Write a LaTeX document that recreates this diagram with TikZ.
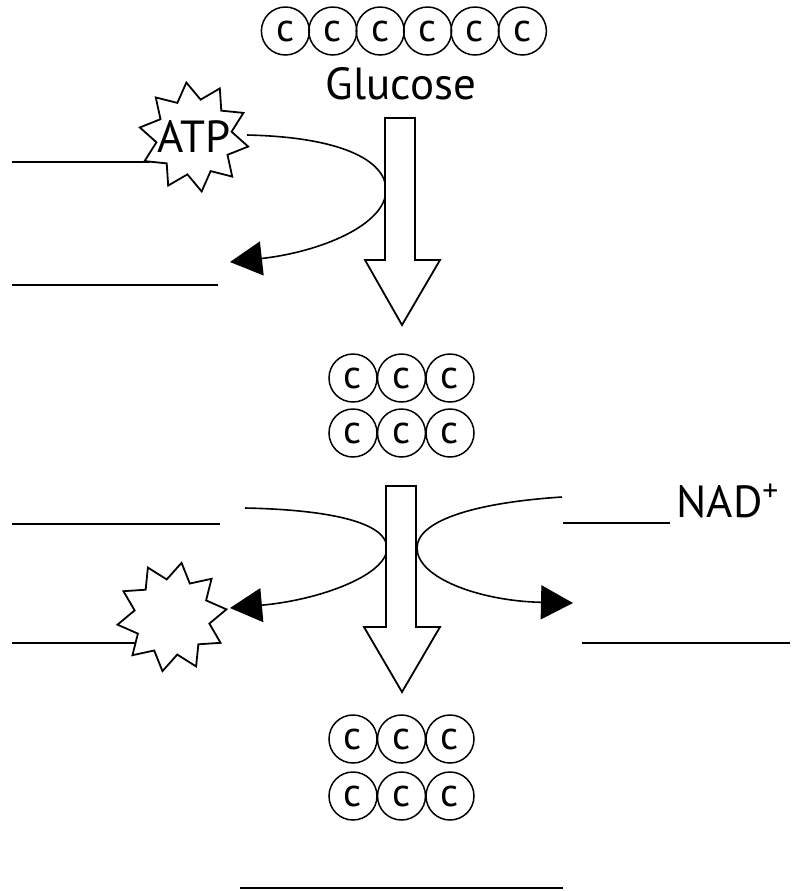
\documentclass[tikz,border=0pt]{standalone}
\usepackage{fontspec}
\setmainfont{PT Sans}
\usetikzlibrary{shapes.geometric,arrows.meta}

\begin{document}
\begin{tikzpicture}[x=0.5pt,y=-0.5pt,
        carbon/.style={circle,draw,line width=0.75pt,minimum size=24pt,inner sep=0pt,font=\fontsize{20}{20}\selectfont},
        burst/.style={star,star points=10,star point ratio=1.45,draw,line width=0.9pt,fill=white,inner sep=0pt,minimum size=55pt},
        blank/.style={line width=1pt},
        flow/.style={line width=0.8pt,-{Triangle[length=16pt,width=17pt]}},
        bigarrow/.style={draw,line width=0.9pt,fill=white},
        label/.style={font=\fontsize{22.5}{22.5}\selectfont}]
        \useasboundingbox (0,0) rectangle (792,891);

        \foreach \i in {1,...,6}
            \node[carbon] (glu\i) at (238+47.4*\i,31) {c};
        \node[label] (glucose) at (401,84) {Glucose};

        \draw[blank] (12,162)--(150,162);
        \node[burst,label,shape border rotate=8] (atp) at (194,137) {\makebox[0pt]{\raisebox{-.35em}[0pt][0pt]{ATP}}};
        \coordinate (l1) at (230,262);
        \draw[flow] (247,135) .. controls (340,137) and (386,160) .. (386,190) .. controls (386,225) and (320,252) .. (l1);
        \draw[blank] (12,285)--(218,285);
        \draw[bigarrow] (385,118)--(415,118)--(415,260)--(440,260)--(402,325)--(365,260)--(385,260)--cycle;

        \foreach \i in {1,2,3} {
            \node[carbon] (pa\i) at (304.5+48.5*\i,378) {c};
            \node[carbon] (pb\i) at (304.5+48.5*\i,433) {c};
        }

        \draw[blank] (12,524)--(220,524);
        \coordinate (l2s) at (245,508);
        \coordinate (l2e) at (230,608);
        \draw[flow] (l2s) .. controls (340,510) and (387,525) .. (387,548) .. controls (387,575) and (320,600) .. (l2e);
        \draw[blank] (12,643)--(140,643);
        \node[burst,shape border rotate=-10] (adp) at (172,617) {};

        \coordinate (r2s) at (562,497);
        \coordinate (r2e) at (573,603);
        \draw[flow] (r2s) .. controls (470,503) and (417,522) .. (417,548) .. controls (417,578) and (480,601) .. (r2e);
        \draw[blank] (563,523)--(670,523);
        \node[label,anchor=base west,inner sep=0pt] (nad) at (676,517) {NAD\textsuperscript{+}};
        \draw[blank] (582,643)--(790,643);
        \draw[bigarrow] (386,486)--(416,486)--(416,627)--(440,627)--(402,692)--(364,627)--(386,627)--cycle;

        \foreach \i in {1,2,3} {
            \node[carbon] (qa\i) at (304.5+48.5*\i,739) {c};
            \node[carbon] (qb\i) at (304.5+48.5*\i,796) {c};
        }
        \draw[blank] (240,888)--(563,888);
    \end{tikzpicture}
\end{document}
